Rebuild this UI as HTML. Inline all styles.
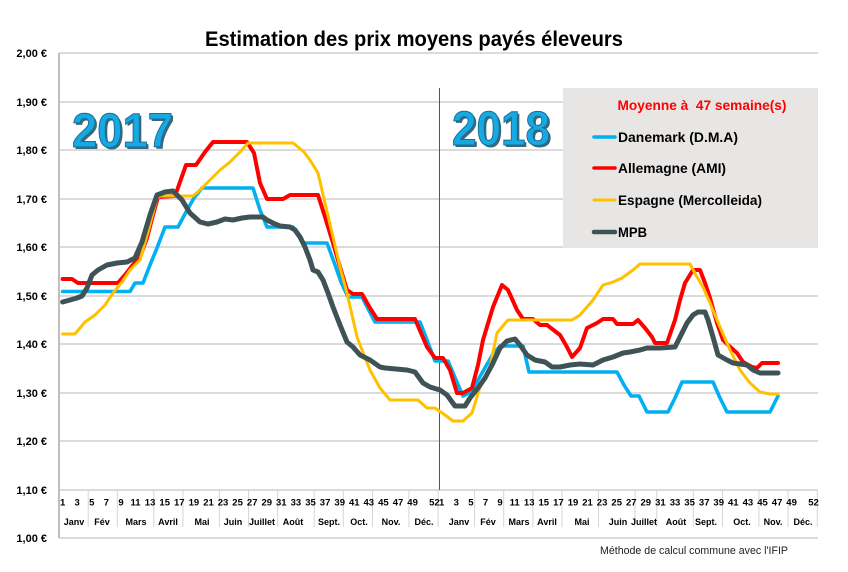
<!DOCTYPE html>
<html>
<head>
<meta charset="utf-8">
<style>
html,body{margin:0;padding:0;background:#fff;}
svg{display:block;font-family:"Liberation Sans",Arial,sans-serif;}
</style>
</head>
<body>
<svg width="848" height="572" viewBox="0 0 848 572" xmlns="http://www.w3.org/2000/svg">
<rect width="848" height="572" fill="#fff"/>
<!-- Title -->
<text x="414" y="46" font-size="21" font-weight="bold" text-anchor="middle" textLength="418" lengthAdjust="spacingAndGlyphs" fill="#000">Estimation des prix moyens payés éleveurs</text>

<!-- gridlines -->
<g stroke="#cfcfcf" stroke-width="1.5">
<line x1="59" y1="53" x2="818" y2="53"/>
<line x1="59" y1="102" x2="818" y2="102"/>
<line x1="59" y1="150" x2="818" y2="150"/>
<line x1="59" y1="199" x2="818" y2="199"/>
<line x1="59" y1="247" x2="818" y2="247"/>
<line x1="59" y1="296" x2="818" y2="296"/>
<line x1="59" y1="344" x2="818" y2="344"/>
<line x1="59" y1="393" x2="818" y2="393"/>
<line x1="59" y1="441" x2="818" y2="441"/>
<line x1="59" y1="490" x2="818" y2="490"/>
<line x1="59" y1="538" x2="818" y2="538"/>
</g>
<line x1="59" y1="53" x2="59" y2="538" stroke="#bfbfbf" stroke-width="2"/>

<!-- y labels -->
<g font-size="11" font-weight="bold" text-anchor="end" fill="#000">
<text x="47" y="57">2,00 €</text>
<text x="47" y="106">1,90 €</text>
<text x="47" y="154">1,80 €</text>
<text x="47" y="203">1,70 €</text>
<text x="47" y="251">1,60 €</text>
<text x="47" y="300">1,50 €</text>
<text x="47" y="348">1,40 €</text>
<text x="47" y="397">1,30 €</text>
<text x="47" y="445">1,20 €</text>
<text x="47" y="494">1,10 €</text>
<text x="47" y="542">1,00 €</text>
</g>

<!-- month separators -->
<g stroke="#d6d6d6" stroke-width="1">
<line x1="88.2" y1="490" x2="88.2" y2="527"/>
<line x1="117.3" y1="490" x2="117.3" y2="527"/>
<line x1="153.8" y1="490" x2="153.8" y2="527"/>
<line x1="182.9" y1="490" x2="182.9" y2="527"/>
<line x1="219.4" y1="490" x2="219.4" y2="527"/>
<line x1="248.5" y1="490" x2="248.5" y2="527"/>
<line x1="277.7" y1="490" x2="277.7" y2="527"/>
<line x1="314.2" y1="490" x2="314.2" y2="527"/>
<line x1="343.3" y1="490" x2="343.3" y2="527"/>
<line x1="372.5" y1="490" x2="372.5" y2="527"/>
<line x1="408.9" y1="490" x2="408.9" y2="527"/>
<line x1="438.1" y1="490" x2="438.1" y2="527"/>
<line x1="474.6" y1="490" x2="474.6" y2="527"/>
<line x1="503.7" y1="490" x2="503.7" y2="527"/>
<line x1="532.9" y1="490" x2="532.9" y2="527"/>
<line x1="562" y1="490" x2="562" y2="527"/>
<line x1="598.5" y1="490" x2="598.5" y2="527"/>
<line x1="635" y1="490" x2="635" y2="527"/>
<line x1="656.8" y1="490" x2="656.8" y2="527"/>
<line x1="693.3" y1="490" x2="693.3" y2="527"/>
<line x1="722.5" y1="490" x2="722.5" y2="527"/>
<line x1="758.9" y1="490" x2="758.9" y2="527"/>
<line x1="788.1" y1="490" x2="788.1" y2="527"/>
<line x1="817.3" y1="490" x2="817.3" y2="527"/>
</g>

<!-- week labels -->
<g font-size="9.5" font-weight="bold" text-anchor="middle" fill="#000">
<text x="62.6" y="505.5">1</text>
<text x="77.2" y="505.5">3</text>
<text x="91.8" y="505.5">5</text>
<text x="106.4" y="505.5">7</text>
<text x="121.0" y="505.5">9</text>
<text x="135.5" y="505.5">11</text>
<text x="150.1" y="505.5">13</text>
<text x="164.7" y="505.5">15</text>
<text x="179.3" y="505.5">17</text>
<text x="193.9" y="505.5">19</text>
<text x="208.5" y="505.5">21</text>
<text x="223.0" y="505.5">23</text>
<text x="237.6" y="505.5">25</text>
<text x="252.2" y="505.5">27</text>
<text x="266.8" y="505.5">29</text>
<text x="281.3" y="505.5">31</text>
<text x="295.9" y="505.5">33</text>
<text x="310.5" y="505.5">35</text>
<text x="325.1" y="505.5">37</text>
<text x="339.7" y="505.5">39</text>
<text x="354.3" y="505.5">41</text>
<text x="368.8" y="505.5">43</text>
<text x="383.4" y="505.5">45</text>
<text x="398.0" y="505.5">47</text>
<text x="412.6" y="505.5">49</text>
<text x="434.4" y="505.5">52</text>
<text x="441.7" y="505.5">1</text>
<text x="456.3" y="505.5">3</text>
<text x="470.9" y="505.5">5</text>
<text x="485.5" y="505.5">7</text>
<text x="500.0" y="505.5">9</text>
<text x="514.6" y="505.5">11</text>
<text x="529.2" y="505.5">13</text>
<text x="543.8" y="505.5">15</text>
<text x="558.4" y="505.5">17</text>
<text x="573.0" y="505.5">19</text>
<text x="587.5" y="505.5">21</text>
<text x="602.1" y="505.5">23</text>
<text x="616.7" y="505.5">25</text>
<text x="631.3" y="505.5">27</text>
<text x="645.8" y="505.5">29</text>
<text x="660.4" y="505.5">31</text>
<text x="675.0" y="505.5">33</text>
<text x="689.6" y="505.5">35</text>
<text x="704.2" y="505.5">37</text>
<text x="718.7" y="505.5">39</text>
<text x="733.3" y="505.5">41</text>
<text x="747.9" y="505.5">43</text>
<text x="762.5" y="505.5">45</text>
<text x="777.1" y="505.5">47</text>
<text x="791.6" y="505.5">49</text>
<text x="813.5" y="505.5">52</text>
</g>

<!-- month labels -->
<g font-size="9" font-weight="bold" text-anchor="middle" fill="#000">
<text x="74" y="525">Janv</text>
<text x="102" y="525">Fév</text>
<text x="136" y="525">Mars</text>
<text x="168" y="525">Avril</text>
<text x="202" y="525">Mai</text>
<text x="233" y="525">Juin</text>
<text x="262" y="525">Juillet</text>
<text x="293" y="525">Août</text>
<text x="329" y="525">Sept.</text>
<text x="359" y="525">Oct.</text>
<text x="391" y="525">Nov.</text>
<text x="424" y="525">Déc.</text>
<text x="459" y="525">Janv</text>
<text x="488" y="525">Fév</text>
<text x="519" y="525">Mars</text>
<text x="547" y="525">Avril</text>
<text x="582" y="525">Mai</text>
<text x="618" y="525">Juin</text>
<text x="644" y="525">Juillet</text>
<text x="676" y="525">Août</text>
<text x="706" y="525">Sept.</text>
<text x="742" y="525">Oct.</text>
<text x="773" y="525">Nov.</text>
<text x="803" y="525">Déc.</text>
</g>

<!-- year separator -->
<line x1="439.5" y1="88" x2="439.5" y2="490" stroke="#555" stroke-width="1"/>

<!-- Year labels -->
<g font-size="48" font-weight="bold">
<text x="74" y="149" textLength="101" lengthAdjust="spacingAndGlyphs" fill="#1d4e63" opacity="0.85">2017</text>
<text x="72" y="147" textLength="101" lengthAdjust="spacingAndGlyphs" fill="#16a9e2" stroke="#1b6d92" stroke-width="1">2017</text>
<text x="454" y="147" textLength="98" lengthAdjust="spacingAndGlyphs" fill="#1d4e63" opacity="0.85">2018</text>
<text x="452" y="145" textLength="98" lengthAdjust="spacingAndGlyphs" fill="#16a9e2" stroke="#1b6d92" stroke-width="1">2018</text>
</g>

<!-- Series -->
<g fill="none" stroke-linejoin="round" stroke-linecap="round">
<polyline stroke="#00b0f0" stroke-width="3.6" points="62.6,291.5 130,291.5 135,283 143,283 150,265 157,248 165,227 178,227 186,212 194,198 202,188 253,188 260,210 267,227 293,227 303,243 327,243 334,262 341,282 348,297 362,297 375,322 420,322 427,340 435,361 448,361 456,380 463,396 471,392 478,380 486,366 493,354 500,346 523,346 529,372 617,372 624,385 631,396 639,396 647,412 668,412 675,398 682,382 713,382 720,398 727,412 770,412 778,396"/>
<polyline stroke="#ff0000" stroke-width="4" points="62.6,279 72,279 78,283 118,283 125,275 132,266 140,257 147,238 153,215 158,197 175,196 180,182 186,165 196,165 205,152 213,142 247,142 254,153 260,183 267,199 283,199 290,195 318,195 325,217 333,243 340,267 347,290 353,294 362,294 370,308 377,319 415,319 421,333 427,347 435,358 443,358 450,370 457,393 463,393 472,388 478,365 483,340 493,307 502,285 508,290 517,310 523,319 533,319 540,325 547,325 560,335 567,347 572,357 580,348 587,328 597,323 603,319 613,319 617,324 633,324 638,320 645,328 652,337 655,343 667,343 675,320 680,300 685,283 693,270 700,270 705,283 710,298 717,323 723,340 728,345 737,353 743,362 752,367 757,368 762,363 778,363"/>
<polyline stroke="#ffc000" stroke-width="3" points="62.6,334 75,334 80,328 85,322 95,315 105,305 113,293 122,282 130,270 140,260 148,232 157,198 160,196 193,196 200,190 210,180 220,170 230,162 240,152 248,143 293,143 298,147 304,152 310,160 318,173 325,203 333,237 340,267 347,293 352,315 357,337 364,355 370,370 380,388 390,400 418,400 427,408 435,408 445,415 453,421 463,421 472,413 480,387 490,367 497,333 502,327 508,320 572,320 580,315 593,300 603,285 613,282 622,278 633,270 640,264 690,264 697,277 703,287 710,303 720,327 730,350 740,370 750,383 760,392 770,394 778,394"/>
<polyline stroke="#3f5357" stroke-width="5" points="62.6,302 70,300 77,298 82,296 87,288 92,275 98,270 107,265 117,263 127,262 135,258 142,242 150,215 157,195 165,192 173,191 182,200 190,213 200,222 208,224 217,222 225,219 233,220 242,218 250,217 263,217 267,220 275,224 280,226 290,227 295,230 300,237 305,247 310,260 313,270 318,272 323,280 328,293 333,307 340,325 347,342 353,347 360,355 370,360 380,367 385,368 407,370 415,372 423,383 430,387 440,390 447,395 455,406 465,406 470,398 478,388 485,378 492,365 500,348 507,341 515,339 520,345 527,355 535,360 545,362 552,367 560,367 570,365 580,364 593,365 603,360 613,357 623,353 630,352 640,350 647,348 660,348 675,347 680,337 687,323 693,315 698,312 705,312 708,320 713,337 718,355 727,360 733,363 747,365 753,370 760,373 770,373 778,373"/>
</g>

<!-- Legend -->
<rect x="563" y="88" width="255" height="160" fill="#e8e6e4"/>
<text x="702" y="110" font-size="13.5" font-weight="bold" fill="#ff0000" text-anchor="middle" textLength="169" lengthAdjust="spacingAndGlyphs">Moyenne à &#160;47 semaine(s)</text>
<g stroke-linecap="round">
<line x1="594" y1="137" x2="615" y2="137" stroke="#00b0f0" stroke-width="3.5"/>
<line x1="594" y1="168" x2="615" y2="168" stroke="#ff0000" stroke-width="3.5"/>
<line x1="594" y1="200" x2="615" y2="200" stroke="#ffc000" stroke-width="3"/>
<line x1="594" y1="232" x2="615" y2="232" stroke="#3f5357" stroke-width="4.5"/>
</g>
<g font-size="13.5" font-weight="bold" fill="#000">
<text x="618" y="142" textLength="120" lengthAdjust="spacingAndGlyphs">Danemark (D.M.A)</text>
<text x="618" y="173" textLength="108" lengthAdjust="spacingAndGlyphs">Allemagne (AMI)</text>
<text x="618" y="205" textLength="144" lengthAdjust="spacingAndGlyphs">Espagne (Mercolleida)</text>
<text x="618" y="237" textLength="29" lengthAdjust="spacingAndGlyphs">MPB</text>
</g>

<!-- footer -->
<text x="600" y="554" font-size="11" fill="#222" textLength="188" lengthAdjust="spacingAndGlyphs">Méthode de calcul commune avec l'IFIP</text>
</svg>
</body>
</html>
